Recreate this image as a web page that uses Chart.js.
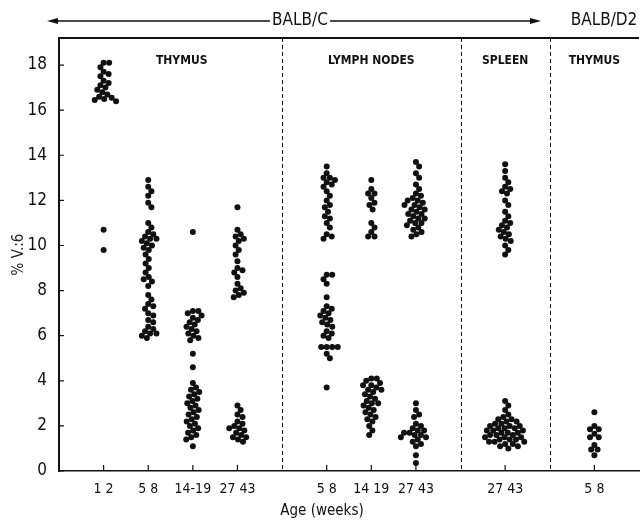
<!DOCTYPE html>
<html>
<head>
<meta charset="utf-8">
<script src="https://cdn.jsdelivr.net/npm/chart.js@4.4.1/dist/chart.umd.min.js"></script>
<style>
  body { margin: 0; background: #fff; }
  #wrap { width: 642px; height: 520px; }
</style>
</head>
<body>
<div id="wrap"><canvas id="chart"></canvas></div>
<script>
// age groups along the x axis and the slot each one sits in
const ageLabels = ['1 2', '5 8', '14-19', '27 43', '5 8', '14 19', '27 43', '27 43', '5 8'];
const ageSlots = [1, 2, 3, 4, 6, 7, 8, 10, 12];
const sections = ['THYMUS', 'LYMPH NODES', 'SPLEEN', 'THYMUS'];
const sectionCenters = [2.75, 7, 10, 12];
const sectionBreaks = [5, 9, 11];
const yTicks = [0, 2, 4, 6, 8, 10, 12, 14, 16, 18];

// % V.:6 per animal
const thymus12 = [18.1, 18.1, 17.9, 17.7, 17.6, 17.5, 17.3, 17.2, 17.1, 17.0, 16.9, 16.8, 16.7, 16.6, 16.55, 16.5, 16.45, 16.4, 10.7, 9.8];
const thymus58 = [12.9, 12.6, 12.4, 12.2, 11.9, 11.7, 11.0, 10.8, 10.6, 10.5, 10.4, 10.3, 10.3, 10.2, 10.1, 10.0, 9.9, 9.8,
  9.6, 9.4, 9.2, 9.0, 8.8, 8.6, 8.5, 8.4, 8.2, 7.8, 7.6, 7.4, 7.3, 7.2, 7.0, 6.9, 6.7, 6.6, 6.4, 6.3, 6.2, 6.1, 6.1, 6.0, 5.9];
const thymus1419 = [10.6, 7.1, 7.1, 7.0, 6.9, 6.8, 6.7, 6.6, 6.5, 6.4, 6.3, 6.2, 6.1, 6.0, 5.9, 5.8, 5.2, 4.6,
  3.9, 3.7, 3.6, 3.5, 3.4, 3.3, 3.2, 3.1, 3.0, 2.9, 2.8, 2.7, 2.6, 2.5, 2.4, 2.3, 2.2, 2.1, 2.0, 1.9, 1.8, 1.7, 1.6, 1.5, 1.4, 1.1];
const thymus2743 = [11.7, 10.7, 10.5, 10.4, 10.3, 10.2, 10.0, 9.8, 9.6, 9.3, 9.0, 8.9, 8.8, 8.6, 8.3, 8.1, 8.0, 7.9, 7.8, 7.7,
  2.9, 2.7, 2.5, 2.4, 2.2, 2.1, 2.0, 1.9, 1.9, 1.8, 1.7, 1.6, 1.5, 1.5, 1.4, 1.3];
const lymph58 = [13.5, 13.2, 13.0, 13.0, 12.9, 12.8, 12.7, 12.6, 12.4, 12.2, 12.0, 11.8, 11.7, 11.5, 11.3, 11.2, 11.0, 10.8, 10.5, 10.4, 10.3,
  8.7, 8.7, 8.5, 8.3, 7.7, 7.3, 7.2, 7.1, 7.0, 6.9, 6.8, 6.7, 6.6, 6.5, 6.4, 6.2, 6.1, 6.0, 5.9, 5.5, 5.5, 5.5, 5.5, 5.2, 5.0, 3.7];
const lymph1419 = [12.9, 12.5, 12.3, 12.3, 12.1, 11.9, 11.8, 11.6, 11.0, 10.8, 10.6, 10.4, 10.4,
  4.1, 4.1, 4.0, 3.9, 3.8, 3.8, 3.7, 3.6, 3.6, 3.5, 3.4, 3.3, 3.2, 3.1, 3.0, 3.0, 2.9, 2.8, 2.7, 2.6, 2.5, 2.4, 2.3, 2.2, 2.0, 1.8, 1.6];
const lymph2743 = [13.7, 13.5, 13.2, 13.0, 12.7, 12.5, 12.3, 12.2, 12.1, 12.0, 12.0, 11.9, 11.8, 11.8, 11.7, 11.6, 11.6, 11.5, 11.4, 11.4,
  11.3, 11.2, 11.2, 11.1, 11.0, 11.0, 10.9, 10.8, 10.7, 10.6, 10.5, 10.4,
  3.0, 2.7, 2.5, 2.4, 2.1, 2.0, 1.9, 1.8, 1.8, 1.7, 1.7, 1.6, 1.6, 1.5, 1.5, 1.4, 1.3, 1.2, 1.1, 0.7, 0.35];
const spleen2743 = [13.6, 13.3, 13.0, 12.8, 12.6, 12.5, 12.4, 12.3, 12.0, 11.8, 11.5, 11.3, 11.1, 11.0, 10.9, 10.8, 10.7, 10.6, 10.5,
  10.4, 10.3, 10.2, 10.0, 9.8, 9.6,
  3.1, 2.9, 2.7, 2.5, 2.4, 2.3, 2.3, 2.2, 2.2, 2.1, 2.1, 2.0, 2.0, 2.0, 1.9, 1.9, 1.9, 1.8, 1.8, 1.8, 1.7, 1.7, 1.7,
  1.6, 1.6, 1.6, 1.5, 1.5, 1.5, 1.4, 1.4, 1.4, 1.3, 1.3, 1.3, 1.2, 1.2, 1.1, 1.1, 1.0];
const d2thymus58 = [2.6, 2.0, 1.85, 1.85, 1.65, 1.5, 1.5, 1.15, 0.95, 0.95, 0.7];

const groupValues = [thymus12, thymus58, thymus1419, thymus2743, lymph58, lymph1419, lymph2743, spleen2743, d2thymus58];

const FONT = "'Liberation Sans Narrow', 'DejaVu Sans Condensed', 'Roboto Condensed', sans-serif";
const DOT_R = 3;

// start with every dot on its slot, the swarm spreads them afterwards
const points = [];
groupValues.forEach((vals, g) => vals.forEach(v => points.push({ x: ageSlots[g], y: v })));

const decor = {
  id: 'decor',
  afterDraw(chart) {
    const { ctx, chartArea: a, scales: { x, y } } = chart;
    ctx.save();
    ctx.strokeStyle = '#111';
    ctx.fillStyle = '#111';

    // frame top
    ctx.lineWidth = 2;
    ctx.beginPath();
    ctx.moveTo(a.left, a.top);
    ctx.lineTo(a.right, a.top);
    ctx.stroke();

    // inward ticks
    ctx.lineWidth = 1.2;
    ctx.beginPath();
    yTicks.forEach(t => {
      const py = y.getPixelForValue(t);
      ctx.moveTo(a.left, py);
      ctx.lineTo(a.left + 5, py);
    });
    ageSlots.forEach(s => {
      const px = x.getPixelForValue(s);
      ctx.moveTo(px, a.bottom);
      ctx.lineTo(px, a.bottom - 6);
    });
    ctx.stroke();

    // section dividers
    ctx.lineWidth = 1;
    ctx.setLineDash([4, 3]);
    ctx.beginPath();
    sectionBreaks.forEach(b => {
      const px = Math.round(x.getPixelForValue(b)) + 0.5;
      ctx.moveTo(px, a.top);
      ctx.lineTo(px, a.bottom);
    });
    ctx.stroke();
    ctx.setLineDash([]);

    // section names
    ctx.font = 'bold 12px ' + FONT;
    ctx.textAlign = 'center';
    ctx.textBaseline = 'middle';
    sections.forEach((s, i) => ctx.fillText(s, x.getPixelForValue(sectionCenters[i]), 61));

    // strain header with arrow
    const hy = 21;
    ctx.font = '17px ' + FONT;
    ctx.fillText('BALB/C', 300, hy);
    ctx.fillText('BALB/D2', 604, hy);
    ctx.lineWidth = 1.5;
    ctx.beginPath();
    ctx.moveTo(56, hy); ctx.lineTo(270, hy);
    ctx.moveTo(330, hy); ctx.lineTo(532, hy);
    ctx.stroke();
    ctx.beginPath();
    ctx.moveTo(47, hy); ctx.lineTo(58, hy - 3); ctx.lineTo(58, hy + 3); ctx.closePath();
    ctx.moveTo(541, hy); ctx.lineTo(530, hy - 3); ctx.lineTo(530, hy + 3); ctx.closePath();
    ctx.fill();

    // x title
    ctx.font = '15px ' + FONT;
    ctx.fillText('Age (weeks)', 322, 511);
    ctx.restore();
  }
};

const chart = new Chart(document.getElementById('chart'), {
  type: 'scatter',
  data: {
    datasets: [{
      data: points,
      backgroundColor: '#111',
      borderWidth: 0,
      pointRadius: DOT_R,
      pointHoverRadius: DOT_R,
    }],
  },
  options: {
    responsive: true,
    maintainAspectRatio: false,
    animation: false,
    layout: { padding: { top: 38, right: 0, left: 0, bottom: 0 } },
    plugins: { legend: { display: false }, tooltip: { enabled: false } },
    scales: {
      x: {
        type: 'linear',
        min: 0,
        max: 13,
        afterFit: s => { s.height = 49; },
        afterBuildTicks: s => { s.ticks = ageSlots.map(v => ({ value: v })); },
        grid: { drawOnChartArea: false, drawTicks: false },
        border: { color: '#111', width: 1.5 },
        ticks: {
          autoSkip: false,
          maxRotation: 0,
          padding: 10,
          color: '#111',
          font: { family: FONT, size: 14 },
          callback: (v, i) => ageLabels[i],
        },
      },
      y: {
        min: 0,
        max: 19.2,
        afterFit: s => { s.width = 59; },
        afterBuildTicks: s => { s.ticks = yTicks.map(v => ({ value: v })); },
        grid: { drawOnChartArea: false, drawTicks: false },
        border: { color: '#111', width: 2 },
        ticks: {
          padding: 12,
          color: '#111',
          font: { family: FONT, size: 17 },
        },
        title: {
          display: true,
          text: '% V.:6',
          color: '#222',
          padding: { top: 10, bottom: 0 },
          font: { family: FONT, size: 15 },
        },
      },
    },
  },
  plugins: [decor],
});

// beeswarm: push each dot sideways just far enough to clear the ones already placed
function swarm() {
  const xs = chart.scales.x, ys = chart.scales.y;
  const pxPerUnit = xs.getPixelForValue(1) - xs.getPixelForValue(0);
  const D = DOT_R * 2 * 0.92;
  const out = [];
  groupValues.forEach((vals, g) => {
    const placed = [];
    [...vals].sort((p, q) => q - p).forEach(v => {
      const py = ys.getPixelForValue(v);
      const near = placed.filter(p => Math.abs(p.py - py) < D);
      const cands = [0];
      near.forEach(p => {
        const dx = Math.sqrt(D * D - (p.py - py) ** 2);
        cands.push(p.dx + dx, p.dx - dx);
      });
      cands.sort((m, n) => Math.abs(m) - Math.abs(n));
      const dx = cands.find(c => near.every(p => Math.hypot(p.dx - c, p.py - py) >= D - 0.01));
      placed.push({ dx, py });
      out.push({ x: ageSlots[g] + dx / pxPerUnit, y: v });
    });
  });
  chart.data.datasets[0].data = out;
  chart.update('none');
}
swarm();
</script>
</body>
</html>
